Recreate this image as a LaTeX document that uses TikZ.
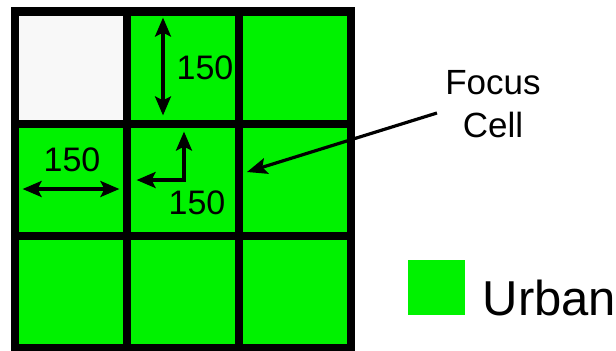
\documentclass[tikz,border=0pt]{standalone}
\usepackage{fontspec}
\setmainfont{Liberation Sans}
\usepackage{xcolor}
\usetikzlibrary{arrows.meta, positioning}

\definecolor{urban}{RGB}{0,242,0}
\definecolor{empty}{RGB}{248,248,248}

\begin{document}
\begin{tikzpicture}[
  x=0.5pt, y=-0.5pt,
  cell/.style={rectangle, draw=none, fill=urban, minimum size=52pt, inner sep=0pt},
  nocell/.style={cell, fill=empty},
  dim/.style={{Stealth[length=9.5pt, width=8pt, inset=2pt]}-{Stealth[length=9.5pt, width=8pt, inset=2pt]}, line width=1.6pt},
  arrow/.style={-{Stealth[length=10pt, width=8pt, inset=2pt]}, line width=1.6pt},
  num/.style={font=\fontsize{17}{20}\selectfont, inner sep=0pt}
]
\useasboundingbox (0,0) rectangle (616,350);

% black frame behind the cells
\node[rectangle, fill=black, minimum width=172pt, minimum height=172pt, inner sep=0pt] (frame) at (183,179) {};

\node[nocell] (c11) at (71,68) {};
\node[cell] (c12) at (183,68) {};
\node[cell] (c13) at (295,68) {};

\node[cell] (c21) at (71,180) {};
\node[cell] (c22) at (183,180) {};
\node[cell] (c23) at (295,180) {};

\node[cell] (c31) at (71,292) {};
\node[cell] (c32) at (183,292) {};
\node[cell] (c33) at (295,292) {};

% distances
\draw[dim, shorten <=1pt, shorten >=2.5pt] ([xshift=-10pt]c12.north) -- ([xshift=-10pt]c12.south);
\node[num] (d1) at (205,68) {150};

\draw[dim, shorten <=2pt, shorten >=2pt] ([yshift=-4.5pt]c21.west) -- ([yshift=-4.5pt]c21.east);
\node[num] (d2) at (72,160) {150};

\draw[dim, shorten <=2pt, shorten >=3pt] ([xshift=0.5pt]c22.north) |- (c22.west);
\node[num] (d3) at (197,203) {150};

% focus cell pointer
\node[align=center, inner sep=4pt, font=\fontsize{17.5}{21.5}\selectfont] (focus) at (493,104) {Focus\\Cell};
\coordinate (tip) at (247,172);
\draw[arrow] ([yshift=-4.5pt]focus.west) -- (tip);

% legend
\node[cell, minimum width=28.5pt, minimum height=27.5pt] (key) at (436.5,287.5) {};
\node[anchor=base west, inner sep=0pt, font=\fontsize{24.5}{28}\selectfont] (urbanlabel) at ([xshift=8.5pt]key.south east) {Urban};

\end{tikzpicture}
\end{document}
